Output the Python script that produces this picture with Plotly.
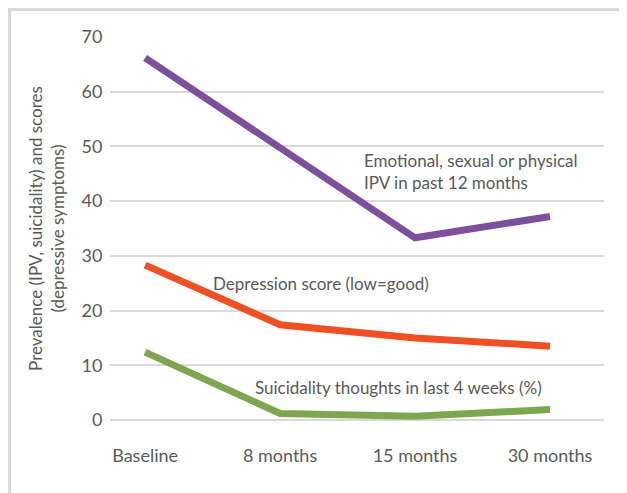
import plotly.graph_objects as go

# Data
time_points = ['Baseline', '8 months', '15 months', '30 months']
ipv_prevalence = [66.2, 49.8, 33.3, 37.2]
depression_score = [28.3, 17.4, 15.0, 13.5]
suicidality = [12.4, 1.2, 0.7, 1.9]

series_labels = [
    'Emotional, sexual or physical<br>IPV in past 12 months',
    'Depression score (low=good)',
    'Suicidality thoughts in last 4 weeks (%)',
]

FONT = 'Lato, Open Sans, sans-serif'
TEXT_GREY = '#595959'
GRID_GREY = '#d9d9d9'

fig = go.Figure()

# One trace per outcome, thick lines, no markers
for values, colour in [
    (ipv_prevalence, '#7e4f9c'),
    (depression_score, '#f04e23'),
    (suicidality, '#7ea64f'),
]:
    fig.add_trace(
        go.Scatter(
            x=time_points,
            y=values,
            mode='lines',
            line=dict(color=colour, width=7),
            showlegend=False,
            hoverinfo='skip',
        )
    )

# Series labels are placed as free text next to each line
label_spots = [(1.61, 45.4), (0.49, 24.9), (0.80, 6.0)]
for text, (ax, ay) in zip(series_labels, label_spots):
    fig.add_annotation(
        x=ax, y=ay, xref='x', yref='y',
        text=text, showarrow=False,
        xanchor='left', yanchor='middle', align='left',
        font=dict(family=FONT, size=17, color=TEXT_GREY),
    )

# Light grey frame around the whole graphic
fig.add_shape(
    type='rect', xref='paper', yref='paper',
    x0=-0.2034, x1=1.06, y0=-0.2, y1=1.0718,
    line=dict(color=GRID_GREY, width=3),
    layer='below',
)

# the page body adds an 8px margin, so the figure is sized 8px smaller
fig.update_layout(
    width=619,
    height=485,
    margin=dict(l=102, r=23, t=29, b=73),
    paper_bgcolor='white',
    plot_bgcolor='white',
    font=dict(family=FONT, color=TEXT_GREY),
    xaxis=dict(
        type='category',
        range=[-0.26, 3.40],
        showgrid=False,
        showline=False,
        zeroline=False,
        ticks='outside',
        ticklen=19,
        tickcolor='rgba(0,0,0,0)',
        tickfont=dict(family=FONT, size=18, color=TEXT_GREY),
    ),
    yaxis=dict(
        range=[0, 70],
        dtick=10,
        showgrid=True,
        gridcolor=GRID_GREY,
        gridwidth=1.5,
        zeroline=True,
        zerolinecolor=GRID_GREY,
        zerolinewidth=1.5,
        showline=False,
        ticks='outside',
        ticklen=3,
        tickcolor='rgba(0,0,0,0)',
        tickfont=dict(family=FONT, size=18, color=TEXT_GREY),
        title=dict(
            text='Prevalence (IPV, suicidality) and scores<br>(depressive symptoms)',
            font=dict(family=FONT, size=17, color=TEXT_GREY),
            standoff=12,
        ),
    ),
)

fig.write_html('out.html')
